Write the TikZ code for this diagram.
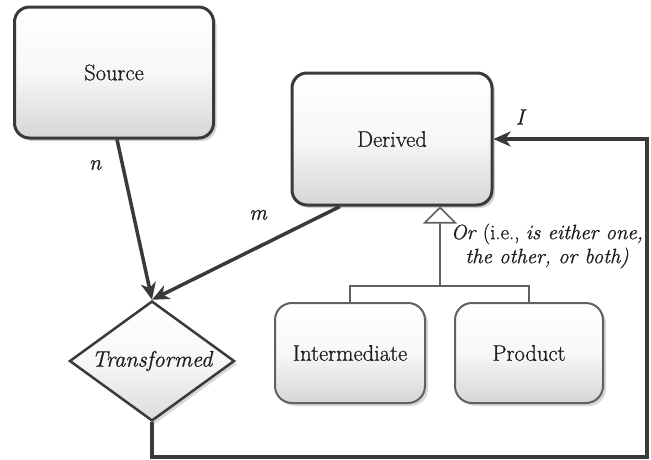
\documentclass[tikz,border=0pt]{standalone}
\usepackage{fontspec}
\setmainfont{Latin Modern Roman}[UprightFeatures={FakeBold=0.8}, ItalicFeatures={FakeBold=0.8}]
\usetikzlibrary{shapes.geometric,arrows.meta,shadows,calc}
\definecolor{linedark}{HTML}{3A3A3A}
\definecolor{linemid}{HTML}{606060}
\definecolor{txt}{HTML}{1E1E1E}
\begin{document}
\begin{tikzpicture}[x=1pt,y=-1pt,
  font=\rmfamily\fontsize{22.5}{26}\selectfont, text=txt,
  bigbox/.style={draw=linedark, line width=3pt, rounded corners=15pt,
    top color=white, bottom color=black!16, middle color=black!3,
    drop shadow={shadow xshift=3pt, shadow yshift=-3pt, opacity=0.35},
    inner sep=0pt},
  smallbox/.style={draw=linemid, line width=2pt, rounded corners=17pt,
    top color=white, bottom color=black!16, middle color=black!3,
    drop shadow={shadow xshift=3pt, shadow yshift=-3pt, opacity=0.3},
    inner sep=0pt},
  dia/.style={shape=diamond, draw=linedark, line width=2.5pt, aspect=1.375,
    inner sep=0pt, minimum width=165pt, minimum height=120pt,
    top color=white, bottom color=black!14, middle color=black!3,
    drop shadow={shadow xshift=3pt, shadow yshift=-3pt, opacity=0.3}},
  conn/.style={draw=linedark, line width=3.5pt, -{Stealth[length=17pt,width=15pt,inset=5pt]}},
  inh/.style={draw=linemid, line width=1.6pt},
  lbl/.style={font=\rmfamily\fontsize{22}{26}\selectfont\itshape, inner sep=0pt}
]
\useasboundingbox[fill=white] (0,0) rectangle (651,459);

\node[bigbox, minimum width=199pt, minimum height=131pt] (source) at (114,72.5) {Source};
\node[bigbox, minimum width=200pt, minimum height=132pt] (derived) at (392,139) {Derived};
\node[smallbox, minimum width=150pt, minimum height=100pt] (inter) at (350,353) {Intermediate};
\node[smallbox, minimum width=148pt, minimum height=100pt] (prod) at (529,353) {Product};
\node[dia] (trans) at (152,361) {\itshape Transformed};

\coordinate (corner) at (647,457);
\coordinate (junc) at (440,286);

\draw[conn] ([xshift=3pt]source.south) -- (trans.north);
\draw[conn] ([xshift=-52pt]derived.south) -- (trans.north);
\draw[conn] (trans.south) |- (corner) |- (derived.east);

\draw[inh] (inter.north) |- (junc) -| (prod.north);
\draw[inh, -{Triangle[open, length=17pt, width=34pt, line width=1.6pt]}] (junc) -- ([xshift=48pt]derived.south);

\node[lbl] (ln) at (95,165) {n};
\node[lbl] (lm) at (258,215) {m};
\node[lbl] (li) at (520,117) {I};
\node[align=center, inner sep=0pt, font=\rmfamily\fontsize{20.8}{24}\selectfont] (orl) at (547,246) {\textit{Or} (i.e., \textit{is either one,}\\ \textit{the other, or both)}};
\end{tikzpicture}
\end{document}
